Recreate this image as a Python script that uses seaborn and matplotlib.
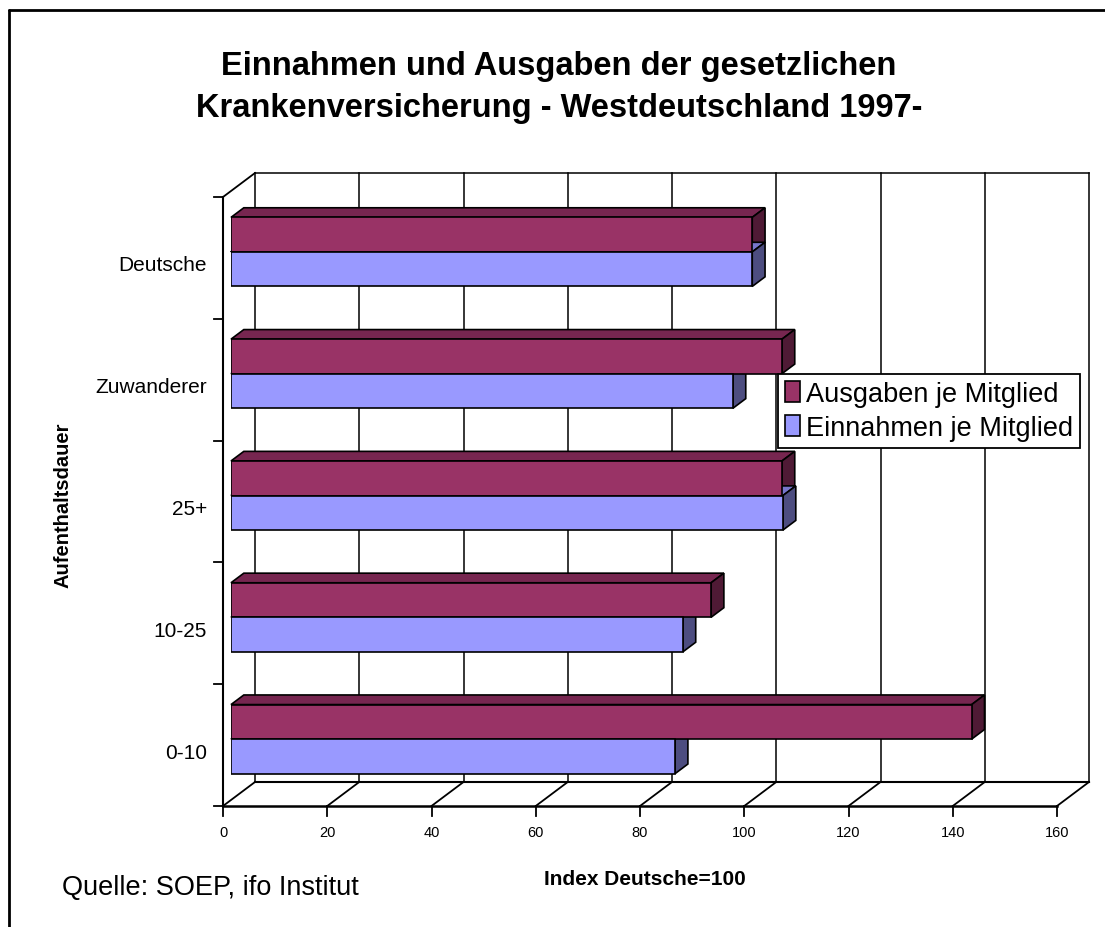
import matplotlib
matplotlib.use('Agg')
import matplotlib.pyplot as plt
from matplotlib.patches import Polygon
from matplotlib.lines import Line2D
import pandas as pd
import seaborn as sns

# Werte (Index Deutsche=100)
kategorien = ['Deutsche', 'Zuwanderer', '25+', '10-25', '0-10']
ausgaben = [100.0, 105.7, 105.7, 92.1, 142.1]
einnahmen = [100.0, 96.3, 105.9, 86.7, 85.2]
reihen = ['Ausgaben je Mitglied', 'Einnahmen je Mitglied']
x_ticks = [0, 20, 40, 60, 80, 100, 120, 140, 160]

farben = ['#993366', '#9999FF']
farben_oben = ['#772650', '#7777cc']
farben_seite = ['#4f1a35', '#4d4d80']

sns.set_theme(style='white')
plt.rcParams['font.family'] = ['Liberation Sans', 'DejaVu Sans']
plt.rcParams['text.color'] = 'black'

df = pd.DataFrame({
    'gruppe': kategorien + kategorien,
    'wert': ausgaben + einnahmen,
    'reihe': [reihen[0]] * len(kategorien) + [reihen[1]] * len(kategorien),
})

W, H = 1105, 928
fig = plt.figure(figsize=(W / 100, H / 100), dpi=100)
fig.patch.set_facecolor('white')

# achse = vorderseite der balken
ax = fig.add_axes([231 / W, (H - 801) / H, 834 / W, 609 / H])
sns.barplot(data=df, y='gruppe', x='wert', hue='reihe', orient='h',
            palette=farben, saturation=1, width=0.567, edgecolor='black',
            linewidth=1.2, ax=ax, zorder=5, legend=True)
ax.set_xlim(0, 160)
ax.set_ylim(len(kategorien) - 0.5, -0.5)
ax.axis('off')

# pixel -> datenkoordinaten
PX_X = 834 / 160
PX_Y = 609 / len(kategorien)
DX = 32 / PX_X   # tiefe gesamt
DY = 24 / PX_Y


def tief(x, y, t):
    return x + (t - 0.25) * DX, y - (t - 0.25) * DY


def linie(p1, p2, lw=1.0, z=1):
    ax.add_line(Line2D([p1[0], p2[0]], [p1[1], p2[1]], color='black',
                       lw=lw, zorder=z, clip_on=False,
                       solid_capstyle='projecting'))


y_oben = -0.5
y_unten = len(kategorien) - 0.5

# rueckwand
for t in x_ticks:
    linie(tief(t, y_oben, 1), tief(t, y_unten, 1), lw=1.1)
linie(tief(0, y_oben, 1), tief(160, y_oben, 1), lw=1.1)

# boden
linie(tief(0, y_unten, 1), tief(160, y_unten, 1), lw=1.5)
for t in x_ticks:
    linie(tief(t, y_unten, 0), tief(t, y_unten, 1), lw=1.3)
    a = tief(t, y_unten, 0)
    linie(a, (a[0], a[1] + 10 / PX_Y), lw=1.3, z=6)
linie(tief(0, y_unten, 0), tief(160, y_unten, 0), lw=1.8, z=6)

# linke wand
linie(tief(0, y_oben, 0), tief(0, y_unten, 0), lw=1.5, z=6)
linie(tief(0, y_oben, 0), tief(0, y_oben, 1), lw=1.3)
for i in range(len(kategorien) + 1):
    a = tief(0, y_oben + i, 0)
    linie((a[0] - 9 / PX_X, a[1]), a, lw=1.3, z=6)

# 3d-flaechen der balken
bx, by = 0.4 * DX, 0.4 * DY
for patch in ax.patches:
    fc = patch.get_facecolor()
    k = 0 if abs(fc[2] - 0.4) < 0.05 else 1
    b = patch.get_bbox()
    x0, x1 = b.x0, b.x1
    yt, yb = min(b.y0, b.y1), max(b.y0, b.y1)
    oben = [(x0, yt), (x1, yt), (x1 + bx, yt - by), (x0 + bx, yt - by)]
    seite = [(x1, yb), (x1, yt), (x1 + bx, yt - by), (x1 + bx, yb - by)]
    ax.add_patch(Polygon(oben, closed=True, facecolor=farben_oben[k],
                         edgecolor='black', lw=1.2, zorder=3 + k * 0.5,
                         clip_on=False))
    ax.add_patch(Polygon(seite, closed=True, facecolor=farben_seite[k],
                         edgecolor='black', lw=1.2, zorder=3 + k * 0.5,
                         clip_on=False))

# beschriftung
for t in x_ticks:
    a = tief(t, y_unten, 0)
    ax.text(a[0], a[1] + 26 / PX_Y, str(t), ha='center', va='center',
            fontsize=10.5, color='black')
for i, name in enumerate(kategorien):
    a = tief(0, i, 0)
    ax.text(a[0] - 16 / PX_X, a[1] + 7 / PX_Y, name, ha='right',
            va='center', fontsize=15, color='black')

fig.text(559 / W, 1 - 75 / H, 'Einnahmen und Ausgaben der gesetzlichen',
         ha='center', va='baseline', fontsize=23.5, fontweight='bold')
fig.text(559 / W, 1 - 117 / H, 'Krankenversicherung - Westdeutschland 1997-',
         ha='center', va='baseline', fontsize=23.5, fontweight='bold')
fig.text(63 / W, 1 - 505 / H, 'Aufenthaltsdauer', rotation=90,
         ha='center', va='center', fontsize=14.5, fontweight='bold')
fig.text(645 / W, 1 - 880 / H, 'Index Deutsche=100', ha='center',
         va='center', fontsize=15, fontweight='bold')
fig.text(62 / W, 1 - 888 / H, 'Quelle: SOEP, ifo Institut', ha='left',
         va='center', fontsize=19.5)

# legende
handles, labels = ax.get_legend_handles_labels()
for h in handles:
    h.set_edgecolor('black')
    h.set_linewidth(1.2)
ax.legend(handles, labels, loc='upper left',
          bbox_to_anchor=(778 / W, 1 - 375 / H), bbox_transform=fig.transFigure,
          frameon=True, fancybox=False, edgecolor='black', framealpha=1,
          fontsize=19.5, handlelength=0.55, handleheight=0.8,
          handletextpad=0.25, labelspacing=0.3, borderpad=0.25,
          borderaxespad=0)
ax.get_legend().get_frame().set_linewidth(1.3)
ax.get_legend().set_zorder(10)

# rahmen links/oben
fig.add_artist(Line2D([9 / W, 9 / W], [0, 1 - 11 / H], color='black', lw=2,
                      transform=fig.transFigure))
fig.add_artist(Line2D([9 / W, 1], [1 - 11 / H, 1 - 11 / H], color='black',
                      lw=2, transform=fig.transFigure))

fig.savefig('out.png', dpi=100, facecolor='white')
